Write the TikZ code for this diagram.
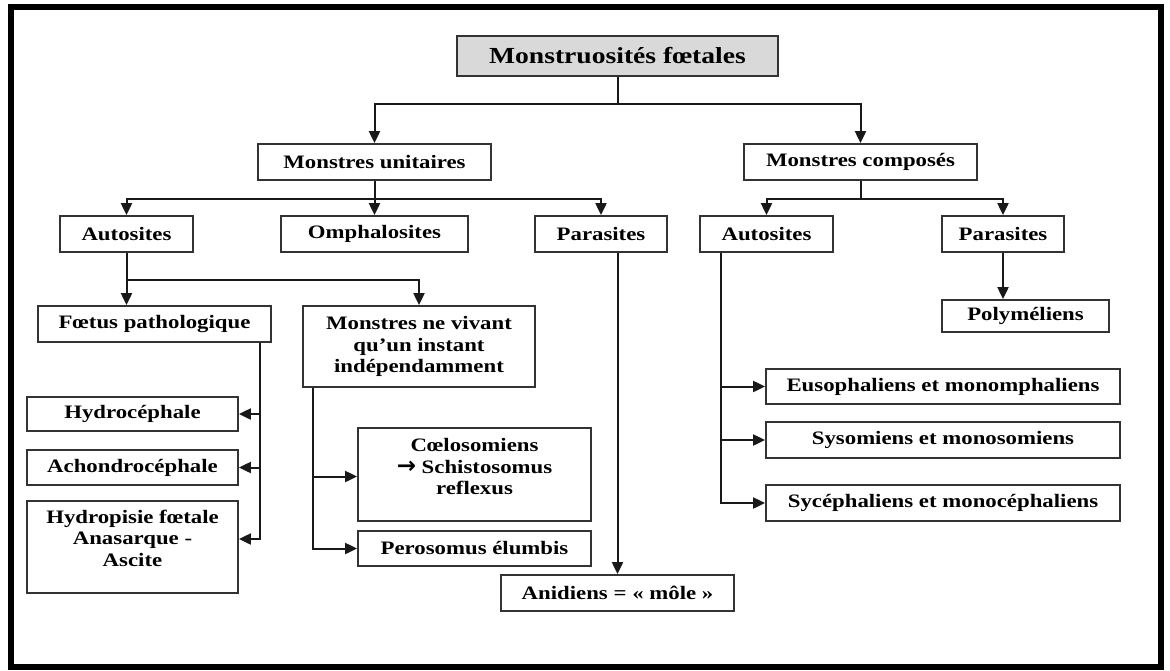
\documentclass[tikz,border=0pt]{standalone}
\usepackage{fontspec}
\setmainfont{Liberation Serif}[FakeStretch=1.2]
\newfontfamily\flechefont{DejaVu Sans}
\usetikzlibrary{arrows.meta}

\begin{document}
\begin{tikzpicture}[x=1pt,y=-1pt,
    boite/.style={draw=black!80,line width=1.8pt,align=center,inner sep=1pt,
      font=\fontsize{19}{21.5}\selectfont\bfseries},
    fleche/.style={draw=black!90,line width=2pt,-{Triangle[length=12pt,width=11pt]}}]
      \useasboundingbox (0,0) rectangle (1170,670);
      \draw[line width=6pt] (10.5,6.5) rectangle (1160.5,667);
      % sommet
      \node[boite,fill=gray!30,minimum width=321pt,minimum height=40pt,
        font=\fontsize{23}{26}\selectfont\bfseries] (racine) at (617.5,56) {Monstruosités fœtales};
      \node[boite,minimum width=233pt,minimum height=36pt] (unitaires) at (374.5,162) {Monstres unitaires};
      \node[boite,minimum width=233pt,minimum height=36pt] (composes) at (860.5,162) {Monstres composés};
      % monstres unitaires
      \node[boite,minimum width=133pt,minimum height=36pt] (autoG) at (126.5,234) {Autosites};
      \node[boite,minimum width=187pt,minimum height=36pt] (omphalo) at (374.5,234) {Omphalosites};
      \node[boite,minimum width=132pt,minimum height=36pt] (paraG) at (601,234) {Parasites};
      \node[boite,minimum width=233pt,minimum height=36pt] (foetus) at (154.5,324) {Fœtus pathologique};
      \node[boite,minimum width=232pt,minimum height=81pt] (nevivant) at (419,346.5) {Monstres ne vivant\\qu’un instant\\indépendamment};
      \node[boite,minimum width=211pt,minimum height=34pt] (hydroc) at (132.5,414) {Hydrocéphale};
      \node[boite,minimum width=211pt,minimum height=35pt] (achond) at (132.5,467.5) {Achondrocéphale};
      \node[boite,minimum width=211pt,minimum height=92pt,text depth=18pt] (hydrop) at (132.5,547) {Hydropisie fœtale\\Anasarque -\\Ascite};
      \node[boite,minimum width=233pt,minimum height=93pt,text depth=16pt] (coelo) at (474.5,474.5) {Cœlosomiens\\{\flechefont\bfseries\fontsize{23}{19}\selectfont →} Schistosomus\\reflexus};
      \node[boite,minimum width=233pt,minimum height=35pt] (peroso) at (474.5,548.5) {Perosomus élumbis};
      \node[boite,minimum width=233pt,minimum height=36pt] (anidiens) at (617.5,593) {Anidiens = «~môle~»};
      % monstres composes
      \node[boite,minimum width=133pt,minimum height=36pt] (autoD) at (766.5,234) {Autosites};
      \node[boite,minimum width=122pt,minimum height=36pt] (paraD) at (1003,234) {Parasites};
      \node[boite,minimum width=167pt,minimum height=32pt] (polym) at (1025.5,316) {Polyméliens};
      \node[boite,minimum width=354pt,minimum height=35pt] (eusoph) at (943,386.5) {Eusophaliens et monomphaliens};
      \node[boite,minimum width=354pt,minimum height=36pt] (sysom) at (943,440) {Sysomiens et monosomiens};
      \node[boite,minimum width=354pt,minimum height=36pt] (sycep) at (943,503) {Sycéphaliens et monocéphaliens};
      \begin{scope}[fleche]
        \draw (racine.south) -- ++(0,27) -| (unitaires.north);
        \draw (racine.south) -- ++(0,27) -| (composes.north);
        \draw (unitaires.south) -- ++(0,18) -| (autoG.north);
        \draw (unitaires.south) -- (omphalo.north);
        \draw (unitaires.south) -- ++(0,18) -| (paraG.north);
        \draw (composes.south) -- ++(0,18) -| (autoD.north);
        \draw (composes.south) -- ++(0,18) -| (paraD.north);
        \draw (paraD.south) -- (paraD.south |- polym.north);
        \draw (autoG.south) -- (autoG.south |- foetus.north);
        \draw (autoG.south) -- ++(0,27) -| (nevivant.north);
        \draw (foetus.south east) ++(-12,0) |- (hydroc.east);
        \draw (foetus.south east) ++(-12,0) |- (achond.east);
        \draw (foetus.south east) ++(-12,0) |- ([yshift=8pt]hydrop.east);
        \draw (nevivant.south west) ++(11,0) |- ([yshift=-2pt]coelo.west);
        \draw (nevivant.south west) ++(11,0) |- (peroso.west);
        \draw (paraG.south -| anidiens.north) -- (anidiens.north);
        \draw (autoD.south west) ++(22,0) |- (eusoph.west);
        \draw (autoD.south west) ++(22,0) |- (sysom.west);
        \draw (autoD.south west) ++(22,0) |- (sycep.west);
      \end{scope}
    \end{tikzpicture}
\end{document}
